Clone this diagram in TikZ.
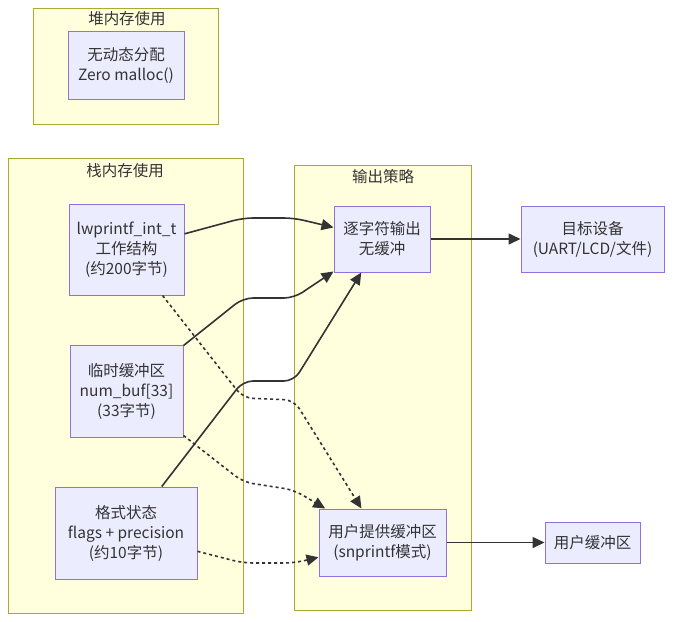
\documentclass[tikz,border=0pt]{standalone}
\usepackage{fontspec}
\setmainfont{Noto Sans CJK SC}
\usepackage{tikz}
\usetikzlibrary{arrows.meta}

\definecolor{grpfill}{HTML}{FFFFDE}
\definecolor{grpline}{HTML}{AAAA33}
\definecolor{boxfill}{HTML}{ECECFF}
\definecolor{boxline}{HTML}{9370DB}
\definecolor{ink}{HTML}{333333}

\tikzset{
  grp/.style={draw=grpline, fill=grpfill, line width=1pt, inner sep=0pt},
  grptitle/.style={text=ink, inner sep=0pt},
  box/.style={draw=boxline, fill=boxfill, line width=1pt, text=ink, align=center, inner sep=0pt},
  flow/.style={draw=ink, line width=1.6pt, rounded corners=10pt, -{Triangle[length=12pt,width=11pt]}},
  dotflow/.style={flow, dash pattern=on 3pt off 3pt}
}

\begin{document}
\begin{tikzpicture}[x=1pt, y=-1pt, font=\fontsize{15.5}{20}\selectfont]
    %%Background
    \useasboundingbox (0,0) rectangle (673,622);
    %%groups
    \node[grp, minimum width=185, minimum height=116] (heap) at (125.5,66) {};
    \node[grptitle] (heaptitle) at (127,19) {堆内存使用};
    \node[grp, minimum width=235, minimum height=455] (stack) at (125.5,385.5) {};
    \node[grptitle] (stacktitle) at (125,171) {栈内存使用};
    \node[grp, minimum width=177, minimum height=445] (outp) at (382.5,387.5) {};
    \node[grptitle] (outptitle) at (383,177) {输出策略};

    %%boxes
    \node[box, minimum width=116, minimum height=68] (nomalloc) at (126,65) {无动态分配\\Zero malloc()};
    \node[box, minimum width=115, minimum height=91] (work) at (126.5,249.5) {lwprintf\_int\_t\\工作结构\\(约200字节)};
    \node[box, minimum width=113, minimum height=92] (numbuf) at (126.5,391) {临时缓冲区\\num\_buf[33]\\(33字节)};
    \node[box, minimum width=142, minimum height=92] (fmt) at (126,533) {格式状态\\flags + precision\\(约10字节)};
    \node[box, minimum width=96, minimum height=66] (direct) at (382,239) {逐字符输出\\无缓冲};
    \node[box, minimum width=127, minimum height=67] (usrbuf) at (382.5,542.5) {用户提供缓冲区\\(snprintf模式)};
    \node[box, minimum width=143, minimum height=66] (target) at (592.5,239) {目标设备\\(UART/LCD/文件)};
    \node[box, minimum width=95, minimum height=41] (buffer) at (592.5,542.5) {用户缓冲区};

    %%bends
    \coordinate (w1) at (243,218);  \coordinate (w2) at (294,218);
    \coordinate (w3) at (243,398);  \coordinate (w4) at (294,400);
    \coordinate (n1) at (243,298);  \coordinate (n2) at (294,298);
    \coordinate (n3) at (243,482);  \coordinate (n4) at (294,490);
    \coordinate (f1) at (243,381);  \coordinate (f2) at (294,381);
    \coordinate (f3) at (243,563);  \coordinate (f4) at (294,563);

    \draw[flow] (work) -- (w1) -- (w2) -- (direct);
    \draw[dotflow] (work) -- (w3) -- (w4) -- (usrbuf);
    \draw[flow] (numbuf) -- (n1) -- (n2) -- (direct);
    \draw[dotflow] (numbuf) -- (n3) -- (n4) -- (usrbuf);
    \draw[flow] (fmt) -- (f1) -- (f2) -- (direct);
    \draw[dotflow] (fmt) -- (f3) -- (f4) -- (usrbuf);
    \draw[flow] (direct) -- (target);
    \draw[flow] (usrbuf) -- (buffer);
\end{tikzpicture}
\end{document}
